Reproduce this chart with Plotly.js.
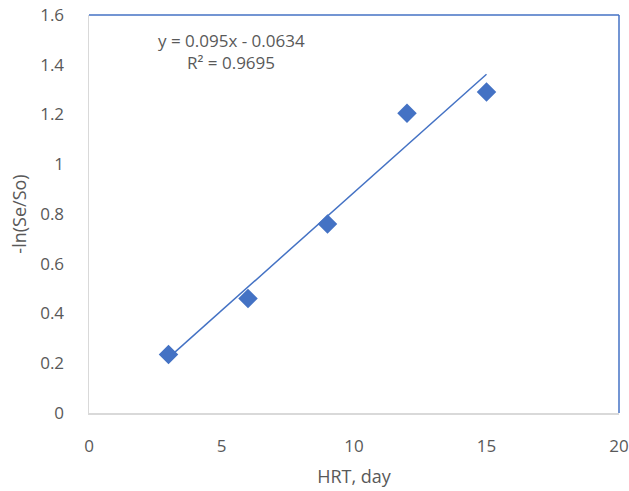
<!DOCTYPE html>
<html>
<head>
<meta charset="utf-8">
<script src="https://cdn.plot.ly/plotly-3.0.1.min.js"></script>
<style>html,body{margin:0;padding:0;background:#fff;}#chart{width:629px;height:491px;}</style>
</head>
<body>
<div id="chart"></div>
<script>
const hrtDays = [3, 6, 9, 12, 15];
const lnRatio = [0.235, 0.46, 0.76, 1.205, 1.29];
const trendSlope = 0.095;
const trendIntercept = -0.0634;
const trendX = [3, 15];
const trendY = trendX.map(x => trendSlope * x + trendIntercept);
const xTicks = [0, 5, 10, 15, 20];
const yTicks = [0, 0.2, 0.4, 0.6, 0.8, 1, 1.2, 1.4, 1.6];

const blue = '#4472C4';
const fam = 'Open Sans, Liberation Sans, sans-serif';
const tickFont = {family: fam, size: 17, color: '#595959'};
const titleFont = {family: fam, size: 18, color: '#595959'};
const annFont = {family: fam, size: 17, color: '#595959'};

const data = [
  {x: trendX, y: trendY, mode: 'lines', type: 'scatter', line: {color: blue, width: 1.5}, hoverinfo: 'skip', showlegend: false},
  {x: hrtDays, y: lnRatio, mode: 'markers', type: 'scatter', marker: {symbol: 'diamond', size: 15, color: blue}, showlegend: false}
];

const layout = {
  width: 629, height: 491,
  margin: {l: 89, r: 10, t: 15, b: 78},
  paper_bgcolor: '#fff', plot_bgcolor: '#fff',
  showlegend: false,
  xaxis: {
    range: [0, 20], tickvals: xTicks, ticktext: xTicks.map(String),
    showgrid: false, zeroline: false, showline: true, linecolor: '#d9d9d9', linewidth: 1.5,
    ticks: 'outside', ticklen: 17, tickcolor: 'rgba(0,0,0,0)',
    tickfont: tickFont,
    title: {text: 'HRT, day', font: titleFont, standoff: 14}
  },
  yaxis: {
    range: [0, 1.6], tickvals: yTicks, ticktext: yTicks.map(String),
    showgrid: false, zeroline: false, showline: true, linecolor: '#d9d9d9', linewidth: 1.5,
    ticks: 'outside', ticklen: 20, tickcolor: 'rgba(0,0,0,0)',
    tickfont: tickFont,
    title: {text: '-ln(Se/So)', font: titleFont, standoff: 9}
  },
  shapes: [
    {type: 'line', xref: 'paper', yref: 'paper', x0: 0, x1: 1, y0: 1, y1: 1, line: {color: blue, width: 1.5}},
    {type: 'line', xref: 'paper', yref: 'paper', x0: 1, x1: 1, y0: 0, y1: 1, line: {color: blue, width: 1.5}}
  ],
  annotations: [
    {xref: 'paper', yref: 'paper', x: (231 - 89) / 530, y: (413 - 40) / 398, text: 'y = 0.095x - 0.0634', showarrow: false,
     font: annFont, xanchor: 'center', yanchor: 'middle'},
    {xref: 'paper', yref: 'paper', x: (231 - 89) / 530, y: (413 - 63) / 398, text: 'R² = 0.9695', showarrow: false,
     font: annFont, xanchor: 'center', yanchor: 'middle'}
  ]
};

Plotly.newPlot('chart', data, layout, {displayModeBar: false, staticPlot: true});
</script>
</body>
</html>
